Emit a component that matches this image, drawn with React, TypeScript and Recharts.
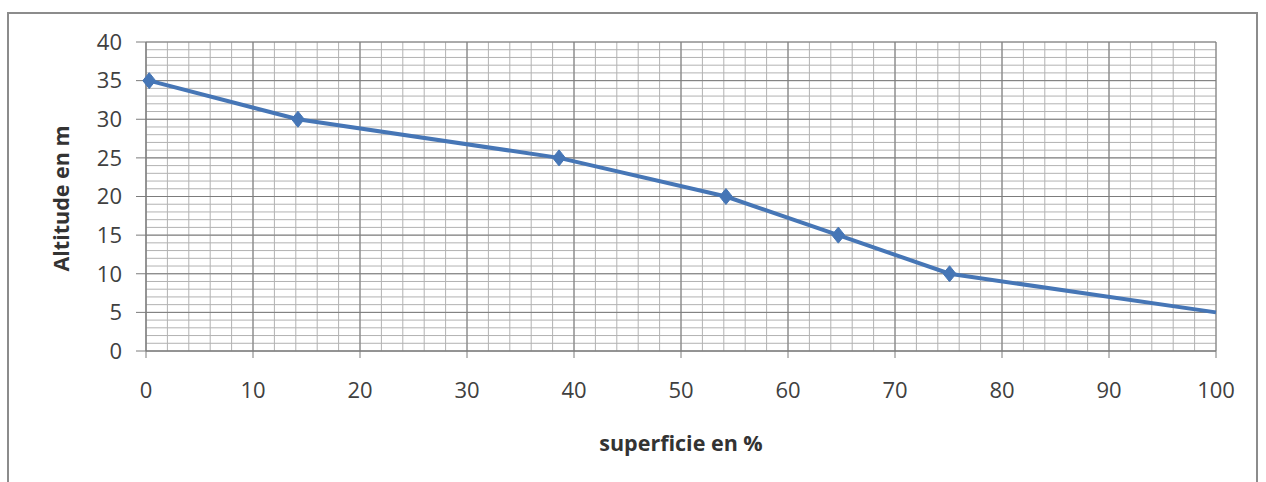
import React from "react";
import { LineChart, Line, XAxis, YAxis, CartesianGrid, Label } from "recharts";

const surfacePct = [0.3, 14.2, 38.6, 54.2, 64.7, 75.1, 100];
const altitudes = [35, 30, 25, 20, 15, 10, 5];
const xTicks = [0, 10, 20, 30, 40, 50, 60, 70, 80, 90, 100];
const yTicks = [0, 5, 10, 15, 20, 25, 30, 35, 40];
const xMinor = [0, 2, 4, 6, 8, 10, 12, 14, 16, 18, 20, 22, 24, 26, 28, 30, 32, 34, 36, 38, 40, 42, 44, 46, 48, 50, 52, 54, 56, 58, 60, 62, 64, 66, 68, 70, 72, 74, 76, 78, 80, 82, 84, 86, 88, 90, 92, 94, 96, 98, 100];
const yMinor = [0, 1, 2, 3, 4, 5, 6, 7, 8, 9, 10, 11, 12, 13, 14, 15, 16, 17, 18, 19, 20, 21, 22, 23, 24, 25, 26, 27, 28, 29, 30, 31, 32, 33, 34, 35, 36, 37, 38, 39, 40];
const markedPoints = 6;

const data = surfacePct.map((x, i) => ({ x, y: altitudes[i] }));

const BLUE = "#4676B6";
const FONT = "'Open Sans', sans-serif";

const Diamond = (props: any) => {
  const { cx, cy, index } = props;
  if (index >= markedPoints || cx == null || cy == null) return <g key={index} />;
  const r = 8;
  return (
    <polygon
      key={index}
      points={`${cx},${cy - r} ${cx + r * 0.8},${cy} ${cx},${cy + r} ${cx - r * 0.8},${cy}`}
      fill={BLUE}
      stroke={BLUE}
      strokeWidth={1}
    />
  );
};

export default function App() {
  return (
    <div style={{ position: "absolute", left: 0, top: 0, width: 1266, height: 482, background: "#fff", overflow: "hidden" }}>
      <div
        style={{
          position: "absolute",
          left: 7,
          top: 12,
          width: 1251,
          height: 480,
          border: "2px solid #8c8c8c",
          boxSizing: "border-box",
        }}
      />
      <div style={{ position: "absolute", left: 0, top: 0 }}>
        <LineChart width={1266} height={482} data={data} margin={{ top: 42, right: 50, bottom: 0, left: 0 }}>
          <CartesianGrid
            stroke="#b2b2b2"
            strokeWidth={1}
            verticalValues={xMinor}
            horizontalValues={yMinor}
          />
          <CartesianGrid stroke="#7c7c7c" strokeWidth={1} verticalValues={xTicks} horizontalValues={yTicks} />
          <XAxis
            dataKey="x"
            type="number"
            domain={[0, 100]}
            ticks={xTicks}
            height={131}
            tickSize={7}
            tickMargin={24}
            axisLine={{ stroke: "#7c7c7c" }}
            tickLine={{ stroke: "#7c7c7c" }}
            tick={{ fill: "#404040", fontSize: 22, fontFamily: FONT }}
            interval={0}
          >
            <Label
              value="superficie en %"
              position="insideBottom"
              offset={31}
              style={{ fill: "#333", fontSize: 21.5, fontWeight: 700, fontFamily: FONT }}
            />
          </XAxis>
          <YAxis
            type="number"
            domain={[0, 40]}
            ticks={yTicks}
            width={146}
            tickSize={10}
            tickMargin={14}
            axisLine={{ stroke: "#7c7c7c" }}
            tickLine={{ stroke: "#7c7c7c" }}
            tick={{ fill: "#404040", fontSize: 22, fontFamily: FONT }}
            interval={0}
          >
            <Label
              content={(p: any) => {
                const vb = p.viewBox;
                const x = vb.x + 60;
                const y = vb.y + vb.height / 2 + 2;
                return (
                  <text
                    x={x}
                    y={y}
                    transform={`rotate(-90, ${x}, ${y})`}
                    textAnchor="middle"
                    dominantBaseline="central"
                    style={{ fill: "#333", fontSize: 21.5, fontWeight: 700, fontFamily: FONT }}
                  >
                    Altitude en m
                  </text>
                );
              }}
            />
          </YAxis>
          <Line
            type="linear"
            dataKey="y"
            stroke={BLUE}
            strokeWidth={4}
            dot={<Diamond />}
            activeDot={false}
            isAnimationActive={false}
          />
        </LineChart>
      </div>
    </div>
  );
}
